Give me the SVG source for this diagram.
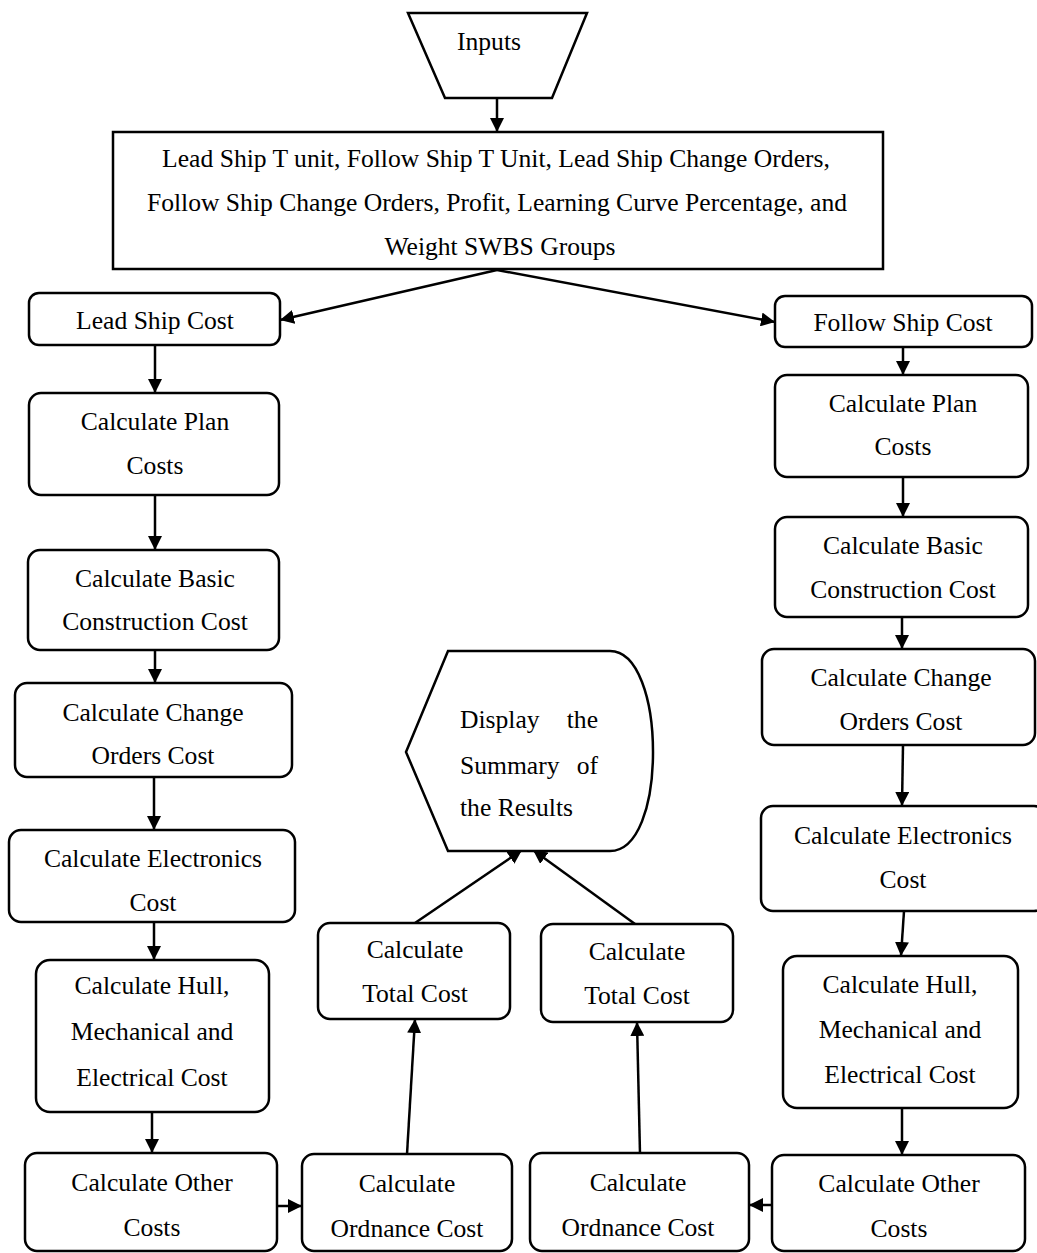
<svg xmlns="http://www.w3.org/2000/svg" width="1037" height="1253" viewBox="0 0 1037 1253">
<style>
.n{fill:#fff;stroke:#000;stroke-width:2.5}
.t{font-family:"Liberation Serif","Times New Roman",serif;font-size:25.6px;fill:#000;text-anchor:middle}
.ts{font-family:"Liberation Serif","Times New Roman",serif;font-size:25.6px;fill:#000}
.c{fill:none;stroke:#000;stroke-width:2.5;marker-end:url(#ah)}
</style>
<defs>
<marker id="ah" markerUnits="userSpaceOnUse" markerWidth="14" markerHeight="14" refX="14" refY="7" orient="auto">
<path d="M0,0 L14,7 L0,14 Z" fill="#000"/>
</marker>
</defs>
<rect width="1037" height="1253" fill="#fff"/>

<g id="connectors">
<path class="c" d="M497,98 L497,132"/>
<path class="c" d="M497,270 L280,320"/>
<path class="c" d="M497,270 L775,322"/>
<path class="c" d="M155,345 L155,393"/>
<path class="c" d="M155,495 L155,550"/>
<path class="c" d="M155,650 L155,683"/>
<path class="c" d="M154,777 L154,830"/>
<path class="c" d="M154,922 L154,960"/>
<path class="c" d="M152,1112 L152,1153"/>
<path class="c" d="M277,1206 L302,1206"/>
<path class="c" d="M407,1154 L415,1019"/>
<path class="c" d="M415,923 L522,850"/>
<path class="c" d="M903,347 L903,375"/>
<path class="c" d="M903,477 L903,517"/>
<path class="c" d="M902,617 L902,649"/>
<path class="c" d="M903,745 L902,806"/>
<path class="c" d="M904,911 L901,956"/>
<path class="c" d="M902,1108 L902,1155"/>
<path class="c" d="M772,1205 L749,1205"/>
<path class="c" d="M640,1154 L637,1022"/>
<path class="c" d="M635,924 L533,850"/>
</g>

<g id="inputs">
<path class="n" d="M408,13 L587,13 L552,98 L445,98 Z"/>
<text class="t" x="489" y="50">Inputs</text>
</g>

<g id="input-list">
<rect class="n" x="113" y="132" width="770" height="137"/>
<text class="t" x="496" y="167">Lead Ship T unit, Follow Ship T Unit, Lead Ship Change Orders,</text>
<text class="t" x="497" y="211">Follow Ship Change Orders, Profit, Learning Curve Percentage, and</text>
<text class="t" x="500" y="255">Weight SWBS Groups</text>
</g>

<g id="lead-ship-cost">
<rect class="n" x="29" y="293" width="251" height="52" rx="10"/>
<text class="t" x="155" y="329">Lead Ship Cost</text>
</g>
<g id="lead-plan">
<rect class="n" x="29" y="393" width="250" height="102" rx="12"/>
<text class="t" x="155" y="430">Calculate Plan</text>
<text class="t" x="155" y="474">Costs</text>
</g>
<g id="lead-basic">
<rect class="n" x="28" y="550" width="251" height="100" rx="12"/>
<text class="t" x="155" y="587">Calculate Basic</text>
<text class="t" x="155" y="630">Construction Cost</text>
</g>
<g id="lead-change">
<rect class="n" x="15" y="683" width="277" height="94" rx="12"/>
<text class="t" x="153" y="721">Calculate Change</text>
<text class="t" x="153" y="764">Orders Cost</text>
</g>
<g id="lead-electronics">
<rect class="n" x="9" y="830" width="286" height="92" rx="12"/>
<text class="t" x="153" y="867">Calculate Electronics</text>
<text class="t" x="153" y="911">Cost</text>
</g>
<g id="lead-hull">
<rect class="n" x="36" y="960" width="233" height="152" rx="14"/>
<text class="t" x="152" y="994">Calculate Hull,</text>
<text class="t" x="152" y="1040">Mechanical and</text>
<text class="t" x="152" y="1086">Electrical Cost</text>
</g>
<g id="lead-other">
<rect class="n" x="25" y="1153" width="252" height="98" rx="12"/>
<text class="t" x="152" y="1191">Calculate Other</text>
<text class="t" x="152" y="1236">Costs</text>
</g>
<g id="lead-ordnance">
<rect class="n" x="302" y="1154" width="210" height="97" rx="12"/>
<text class="t" x="407" y="1192">Calculate</text>
<text class="t" x="407" y="1237">Ordnance Cost</text>
</g>
<g id="lead-total">
<rect class="n" x="318" y="923" width="192" height="96" rx="12"/>
<text class="t" x="415" y="958">Calculate</text>
<text class="t" x="415" y="1002">Total Cost</text>
</g>

<g id="display">
<path class="n" d="M448,651 L610,651 C638,651 653,700 653,752 C653,805 638,851 610,851 L448,851 L406,752 Z"/>
<text class="ts" x="460" y="728">Display</text>
<text class="ts" x="598" y="728" text-anchor="end">the</text>
<text class="ts" x="460" y="774">Summary</text>
<text class="ts" x="598" y="774" text-anchor="end">of</text>
<text class="ts" x="460" y="816">the Results</text>
</g>

<g id="follow-total">
<rect class="n" x="541" y="924" width="192" height="98" rx="12"/>
<text class="t" x="637" y="960">Calculate</text>
<text class="t" x="637" y="1004">Total Cost</text>
</g>
<g id="follow-ordnance">
<rect class="n" x="530" y="1153" width="219" height="98" rx="12"/>
<text class="t" x="638" y="1191">Calculate</text>
<text class="t" x="638" y="1236">Ordnance Cost</text>
</g>

<g id="follow-ship-cost">
<rect class="n" x="775" y="296" width="257" height="51" rx="10"/>
<text class="t" x="903" y="331">Follow Ship Cost</text>
</g>
<g id="follow-plan">
<rect class="n" x="775" y="375" width="253" height="102" rx="12"/>
<text class="t" x="903" y="412">Calculate Plan</text>
<text class="t" x="903" y="455">Costs</text>
</g>
<g id="follow-basic">
<rect class="n" x="775" y="517" width="253" height="100" rx="12"/>
<text class="t" x="903" y="554">Calculate Basic</text>
<text class="t" x="903" y="598">Construction Cost</text>
</g>
<g id="follow-change">
<rect class="n" x="762" y="649" width="273" height="96" rx="12"/>
<text class="t" x="901" y="686">Calculate Change</text>
<text class="t" x="901" y="730">Orders Cost</text>
</g>
<g id="follow-electronics">
<rect class="n" x="761" y="806" width="285" height="105" rx="12"/>
<text class="t" x="903" y="844">Calculate Electronics</text>
<text class="t" x="903" y="888">Cost</text>
</g>
<g id="follow-hull">
<rect class="n" x="783" y="956" width="235" height="152" rx="14"/>
<text class="t" x="900" y="993">Calculate Hull,</text>
<text class="t" x="900" y="1038">Mechanical and</text>
<text class="t" x="900" y="1083">Electrical Cost</text>
</g>
<g id="follow-other">
<rect class="n" x="772" y="1155" width="253" height="96" rx="12"/>
<text class="t" x="899" y="1192">Calculate Other</text>
<text class="t" x="899" y="1237">Costs</text>
</g>
</svg>
